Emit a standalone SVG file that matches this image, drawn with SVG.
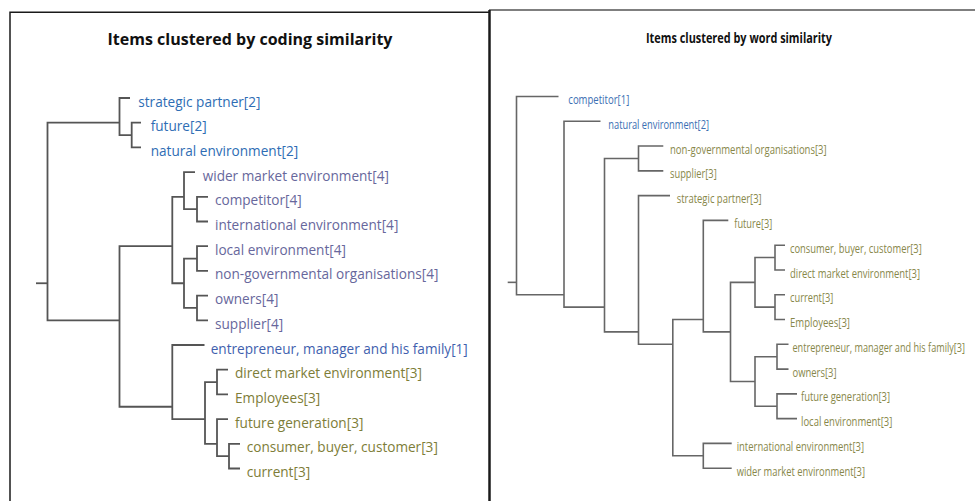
<svg xmlns="http://www.w3.org/2000/svg" width="975" height="501" viewBox="0 0 975 501">
<style>
.bg{fill:#ffffff}
.frame{fill:none;stroke:#1a1a1a;stroke-width:1.5}
.frame2{fill:none;stroke:#1a1a1a;stroke-width:2.5}
.frame3{fill:none;stroke:#555555;stroke-width:1.5}
.ln{fill:none;stroke:#555555;stroke-width:1.8}
.rl{fill:none;stroke:#666666;stroke-width:1.6}
.title{font-family:"Open Sans","Liberation Sans",sans-serif;font-weight:bold;fill:#111111}
.lt{font-family:"Open Sans","Liberation Sans",sans-serif;font-size:13.6px}
.rt{font-family:"Open Sans","Liberation Sans",sans-serif;font-size:12.5px}
.blue{fill:#2e6db4}
.ent{fill:#3f5fae}
.pur{fill:#67679c}
.olv{fill:#7d7d38}
.rblue{fill:#3b6fb3}
.rolv{fill:#87874a}
</style>
<rect class="bg" x="0" y="0" width="975" height="501"/>
<g id="frames">
<path class="frame" d="M10 501 V12.3 H490"/>
<path class="frame3" d="M489 10 H975"/>
<path class="frame2" d="M489.5 10 V501"/>
</g>
<text class="title" x="250" y="45" font-size="16" text-anchor="middle">Items clustered by coding similarity</text>
<text class="title" x="646" y="43" font-size="14.5" textLength="186" lengthAdjust="spacingAndGlyphs">Items clustered by word similarity</text>
<g id="connectors-left">
<path class="ln" d="M141 122.7 H131.7 V147.4 H141"/>
<path class="ln" d="M130 98 H119.5 V135.05 H131.7"/>
<path class="ln" d="M208 196.8 H197 V221.5 H208"/>
<path class="ln" d="M195 172.1 H184 V209.15 H197"/>
<path class="ln" d="M208 246.2 H197 V270.9 H208"/>
<path class="ln" d="M208 295.6 H197 V320.3 H208"/>
<path class="ln" d="M197 258.55 H184 V307.95 H197"/>
<path class="ln" d="M184 196.8 H172.3 V283.25 H184"/>
<path class="ln" d="M228 369.7 H217 V394.4 H228"/>
<path class="ln" d="M240 443.8 H229 V468.5 H240"/>
<path class="ln" d="M228 419.1 H217 V456.15 H229"/>
<path class="ln" d="M217 382.05 H205 V443.8 H217"/>
<path class="ln" d="M204.5 345 H172.3 V419.1 H205"/>
<path class="ln" d="M172.3 246.2 H119.5 V406.75 H172.3"/>
<path class="ln" d="M119.5 122.7 H47.5 V320.3 H119.5"/>
<path class="ln" d="M36 283.25 H47.5"/>
</g>
<g id="connectors-right">
<path class="rl" d="M663.3 146.06 H638.5 V170.84 H663.3"/>
<path class="rl" d="M785 245.18 H775 V269.96 H785"/>
<path class="rl" d="M785 294.74 H775 V319.52 H785"/>
<path class="rl" d="M775 257.57 H755 V307.13 H775"/>
<path class="rl" d="M788.5 344.3 H777 V369.08 H788.5"/>
<path class="rl" d="M797 393.86 H777 V418.64 H797"/>
<path class="rl" d="M777 356.69 H755 V406.25 H777"/>
<path class="rl" d="M755 282.35 H730.5 V381.47 H755"/>
<path class="rl" d="M728.3 220.4 H703.3 V331.91 H730.5"/>
<path class="rl" d="M731.7 443.42 H703.3 V468.2 H731.7"/>
<path class="rl" d="M703.3 319.52 H672.8 V455.81 H703.3"/>
<path class="rl" d="M670 195.62 H638.5 V344.3 H672.8"/>
<path class="rl" d="M638.5 158.45 H604.5 V331.91 H638.5"/>
<path class="rl" d="M600.5 121.28 H564 V307.13 H604.5"/>
<path class="rl" d="M558.5 96.5 H516.5 V294.74 H564"/>
<path class="rl" d="M507.7 282.35 H516.5"/>
</g>
<g id="left-leaves">
<g id="l-strategic-partner"><text class="lt blue" x="138.3" y="106.5">strategic partner[2]</text></g>
<g id="l-future"><text class="lt blue" x="150.7" y="131.2">future[2]</text></g>
<g id="l-natural-environment"><text class="lt blue" x="150.7" y="155.9">natural environment[2]</text></g>
<g id="l-wider-market-environment"><text class="lt pur" x="202.7" y="180.6">wider market environment[4]</text></g>
<g id="l-competitor"><text class="lt pur" x="215" y="205.3">competitor[4]</text></g>
<g id="l-international-environment"><text class="lt pur" x="215" y="230">international environment[4]</text></g>
<g id="l-local-environment"><text class="lt pur" x="215" y="254.7">local environment[4]</text></g>
<g id="l-non-governmental-organisations"><text class="lt pur" x="215" y="279.4">non-governmental organisations[4]</text></g>
<g id="l-owners"><text class="lt pur" x="215" y="304.1">owners[4]</text></g>
<g id="l-supplier"><text class="lt pur" x="215" y="328.8">supplier[4]</text></g>
<g id="l-entrepreneur"><text class="lt ent" x="210.7" y="353.5">entrepreneur, manager and his family[1]</text></g>
<g id="l-direct-market-environment"><text class="lt olv" x="235" y="378.2">direct market environment[3]</text></g>
<g id="l-employees"><text class="lt olv" x="235" y="402.9">Employees[3]</text></g>
<g id="l-future-generation"><text class="lt olv" x="235" y="427.6">future generation[3]</text></g>
<g id="l-consumer"><text class="lt olv" x="246.7" y="452.3">consumer, buyer, customer[3]</text></g>
<g id="l-current"><text class="lt olv" x="246.7" y="477">current[3]</text></g>
</g>
<g id="right-leaves">
<g id="r-competitor"><text class="rt rblue" x="568.3" y="104" textLength="61" lengthAdjust="spacingAndGlyphs">competitor[1]</text></g>
<g id="r-natural-environment"><text class="rt rblue" x="608.3" y="128.8" textLength="100.7" lengthAdjust="spacingAndGlyphs">natural environment[2]</text></g>
<g id="r-non-governmental-organisations"><text class="rt rolv" x="670" y="153.6" textLength="156.7" lengthAdjust="spacingAndGlyphs">non-governmental organisations[3]</text></g>
<g id="r-supplier"><text class="rt rolv" x="670" y="178.3" textLength="46.7" lengthAdjust="spacingAndGlyphs">supplier[3]</text></g>
<g id="r-strategic-partner"><text class="rt rolv" x="676.7" y="203.1" textLength="85" lengthAdjust="spacingAndGlyphs">strategic partner[3]</text></g>
<g id="r-future"><text class="rt rolv" x="734.3" y="227.9" textLength="38" lengthAdjust="spacingAndGlyphs">future[3]</text></g>
<g id="r-consumer"><text class="rt rolv" x="790" y="252.7" textLength="131.7" lengthAdjust="spacingAndGlyphs">consumer, buyer, customer[3]</text></g>
<g id="r-direct-market-environment"><text class="rt rolv" x="790" y="277.5" textLength="130" lengthAdjust="spacingAndGlyphs">direct market environment[3]</text></g>
<g id="r-current"><text class="rt rolv" x="790" y="302.2" textLength="43.3" lengthAdjust="spacingAndGlyphs">current[3]</text></g>
<g id="r-employees"><text class="rt rolv" x="790" y="327" textLength="60" lengthAdjust="spacingAndGlyphs">Employees[3]</text></g>
<g id="r-entrepreneur"><text class="rt rolv" transform="matrix(0.73 0 0 1 792.5 351.8)" x="0" y="0">entrepreneur, manager and his family[3]</text></g>
<g id="r-owners"><text class="rt rolv" x="792.5" y="376.6" textLength="44" lengthAdjust="spacingAndGlyphs">owners[3]</text></g>
<g id="r-future-generation"><text class="rt rolv" x="801" y="401.4" textLength="89" lengthAdjust="spacingAndGlyphs">future generation[3]</text></g>
<g id="r-local-environment"><text class="rt rolv" x="801" y="426.1" textLength="91.3" lengthAdjust="spacingAndGlyphs">local environment[3]</text></g>
<g id="r-international-environment"><text class="rt rolv" x="736.7" y="450.9" textLength="127.3" lengthAdjust="spacingAndGlyphs">international environment[3]</text></g>
<g id="r-wider-market-environment"><text class="rt rolv" x="736.7" y="475.7" textLength="128.3" lengthAdjust="spacingAndGlyphs">wider market environment[3]</text></g>
</g>
</svg>
